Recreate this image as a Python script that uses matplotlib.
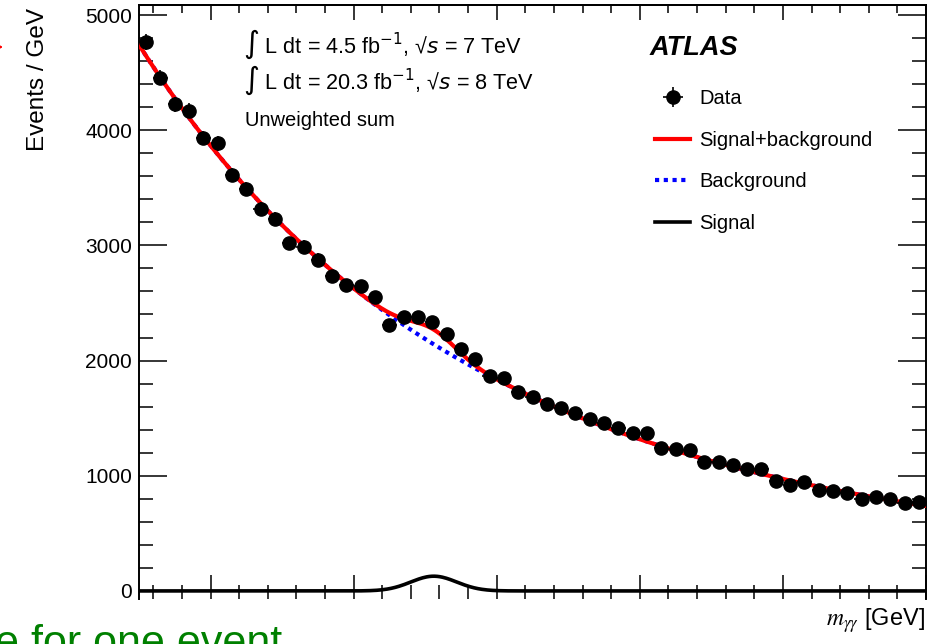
import numpy as np
import matplotlib
matplotlib.use("Agg")
import matplotlib.pyplot as plt
from matplotlib.ticker import MultipleLocator, NullFormatter

# bin centres (GeV) and events / GeV
mass = np.arange(105.5, 160.0, 1.0)
events = [
    4768, 4457, 4225, 4170, 3932, 3886, 3611, 3489, 3318, 3229,
    3020, 2989, 2876, 2731, 2656, 2650, 2549, 2306, 2381, 2381,
    2335, 2228, 2101, 2011, 1863, 1846, 1725, 1687, 1626, 1586,
    1545, 1496, 1456, 1418, 1374, 1374, 1244, 1233, 1224, 1117,
    1117, 1094, 1059, 1056, 955, 920, 949, 877, 868, 848,
    799, 815, 800, 760, 768,
]

# fitted model: exp(polynomial) background + gaussian signal
bkg_coef = [8.464, -2.28, 0.42]   # in x = (m - 105) / 55
sig_norm, sig_mean, sig_width = 128.0, 125.6, 1.6
m_lo, m_hi = 105.0, 160.0

W, H = 933, 644
plt.rcParams["font.family"] = ["Liberation Sans", "DejaVu Sans"]
plt.rcParams["mathtext.fontset"] = "custom"
plt.rcParams["mathtext.rm"] = "Liberation Sans"
plt.rcParams["mathtext.it"] = "Liberation Sans:italic"
plt.rcParams["mathtext.bf"] = "Liberation Sans:bold"


def fx(px):
    return px / W


def fy(py):
    return 1 - py / H


def background(m):
    x = (m - m_lo) / (m_hi - m_lo)
    return np.exp(sum(c * x ** i for i, c in enumerate(bkg_coef)))


def signal(m):
    return sig_norm * np.exp(-0.5 * ((m - sig_mean) / sig_width) ** 2)


fig = plt.figure(figsize=(W / 100, H / 100), dpi=100)
ax = fig.add_axes([fx(139), fy(599), fx(926) - fx(139), fy(5) - fy(599)])

mm = np.linspace(m_lo, m_hi, 600)
ev = np.array(events, dtype=float)

ax.plot(mm, background(mm), color="#0000ff", lw=3, ls=(0, (1, 1.1)),
        label="Background", zorder=2)
ax.plot(mm, background(mm) + signal(mm), color="#ff0000", lw=3,
        label="Signal+background", zorder=3)
ax.plot(mm, signal(mm), color="black", lw=2.6, label="Signal", zorder=3)
dat = ax.errorbar(mass, ev, yerr=np.sqrt(ev), xerr=0.5, fmt="o", color="black",
                  ms=9.5, elinewidth=1.2, capsize=0, label="Data", zorder=4)

ax.set_xlim(m_lo, m_hi)
ax.set_ylim(-70, 5087)

ax.xaxis.set_major_locator(MultipleLocator(10))
ax.xaxis.set_minor_locator(MultipleLocator(2))
ax.yaxis.set_major_locator(MultipleLocator(1000))
ax.yaxis.set_minor_locator(MultipleLocator(200))
ax.xaxis.set_major_formatter(NullFormatter())
ax.tick_params(axis="x", which="both", direction="in", bottom=True, top=False,
               width=1.1)
ax.tick_params(axis="x", which="major", length=17)
ax.tick_params(axis="x", which="minor", length=10)
ax.tick_params(axis="y", which="both", direction="in", left=True, right=True,
               width=1.1, labelsize=15, pad=5)
ax.tick_params(axis="y", which="major", length=20)
ax.tick_params(axis="y", which="minor", length=10)
for side in ["left", "right", "top"]:
    ax.spines[side].set_linewidth(1.4)
ax.spines["bottom"].set_visible(False)

top = ax.secondary_xaxis("top")
top.xaxis.set_major_locator(MultipleLocator(10))
top.xaxis.set_minor_locator(MultipleLocator(2))
top.xaxis.set_major_formatter(NullFormatter())
top.tick_params(which="both", direction="in", width=1.1)
top.tick_params(which="major", length=11)
top.tick_params(which="minor", length=6)
top.spines["top"].set_linewidth(1.4)

# labels
fig.text(fx(38), fy(8), "Events / GeV", rotation=90, ha="center", va="top",
         fontsize=17.5)
fig.text(fx(925), fy(626), r"$m_{\gamma\gamma}$ [GeV]", ha="right",
         va="baseline", fontsize=17, math_fontfamily="stix")

# info texts
fig.text(fx(243), fy(53), "$\\int$ L dt = 4.5 fb$^{-1}$, \u221a$\\mathit{s}$ = 7 TeV",
         fontsize=15.6, va="baseline", math_fontfamily="dejavusans")
fig.text(fx(243), fy(89), "$\\int$ L dt = 20.3 fb$^{-1}$, \u221a$\\mathit{s}$ = 8 TeV",
         fontsize=15.6, va="baseline", math_fontfamily="dejavusans")
fig.text(fx(245), fy(126), "Unweighted sum", fontsize=14.5, va="baseline")
fig.text(fx(650), fy(55), "ATLAS", fontsize=19.5, fontweight="bold",
         fontstyle="italic", va="baseline")

handles, labels = ax.get_legend_handles_labels()
order = ["Data", "Signal+background", "Background", "Signal"]
hmap = dict(zip(labels, handles))
ax.legend([hmap[k] for k in order], order, loc="upper left",
          bbox_to_anchor=(fx(655), fy(89)), bbox_transform=fig.transFigure,
          frameon=False, fontsize=14.5, handlelength=1.75, handletextpad=0.45,
          labelspacing=1.12, borderpad=0, borderaxespad=0)

# slide remnants around the figure
fig.text(fx(-5), fy(655), "e for one event", color="#008000", fontsize=31,
         va="baseline", ha="left")
ax.annotate("", xy=(fx(6), fy(47)), xytext=(fx(-12), fy(47)),
            xycoords="figure fraction", textcoords="figure fraction",
            arrowprops=dict(arrowstyle="-|>", color="red", lw=1.5,
                            mutation_scale=12))

fig.savefig("out.png", dpi=100)
